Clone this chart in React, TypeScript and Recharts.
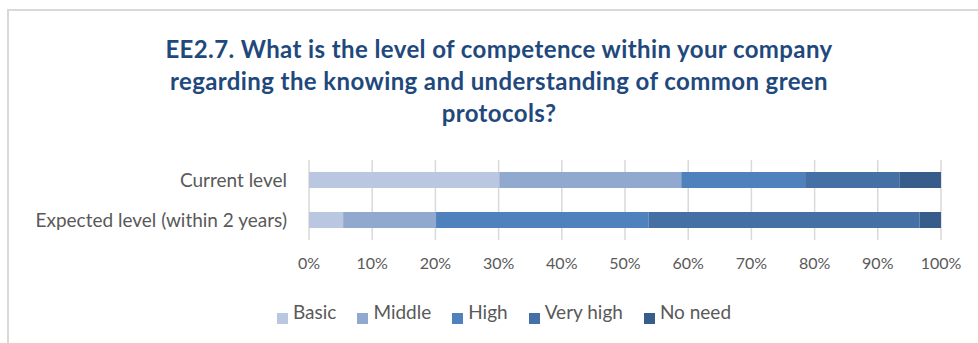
import { BarChart, Bar, XAxis, YAxis, CartesianGrid } from "recharts";

const categories = ["Current level", "Expected level (within 2 years)"];
const seriesNames = ["Basic", "Middle", "High", "Very high", "No need"];
const basic = [30.1, 5.4];
const middle = [28.8, 14.7];
const high = [19.6, 33.6];
const veryHigh = [14.9, 42.9];
const noNeed = [6.6, 3.4];
const xTicks = [0, 10, 20, 30, 40, 50, 60, 70, 80, 90, 100];

const colors = ["#B9C7E0", "#92A9CF", "#4F81BD", "#4470A5", "#385D8A"];
const seriesValues = [basic, middle, high, veryHigh, noNeed];

const data = categories.map((name, i) => {
  const row: Record<string, string | number> = { name };
  seriesNames.forEach((s, j) => {
    row[s] = seriesValues[j][i];
  });
  return row;
});

const FONT = "Lato, 'Open Sans', sans-serif";

export default function App() {
  return (
    <div
      style={{
        position: "absolute",
        left: 0,
        top: 0,
        width: 978,
        height: 343,
        background: "#fff",
        overflow: "hidden",
        fontFamily: FONT,
      }}
    >
      {/* frame */}
      <div
        style={{
          position: "absolute",
          left: 7,
          top: 9,
          width: 1000,
          height: 400,
          borderTop: "2px solid #D9D9D9",
          borderLeft: "2px solid #D9D9D9",
        }}
      />

      <div
        style={{
          position: "absolute",
          left: 99,
          top: 33,
          width: 800,
          textAlign: "center",
          color: "#1F497D",
          fontWeight: 700,
          fontSize: 24,
          letterSpacing: 0.4,
          lineHeight: "32px",
        }}
      >
        <div>EE2.7. What is the level of competence within your company</div>
        <div>regarding the knowing and understanding of common green</div>
        <div>protocols?</div>
      </div>

      <div style={{ position: "absolute", left: 0, top: 0 }}>
        <BarChart
          width={978}
          height={343}
          data={data}
          layout="vertical"
          margin={{ top: 160, right: 37, bottom: 73, left: 0 }}
          barSize={16}
        >
          <CartesianGrid horizontal={false} stroke="#D9D9D9" strokeWidth={1.5} />
          <XAxis
            type="number"
            domain={[0, 100]}
            ticks={xTicks}
            allowDataOverflow
            tickFormatter={(v) => `${v}%`}
            axisLine={false}
            tickLine={false}
            tickSize={0}
            tickMargin={18}
            height={30}
            interval={0}
            tick={{ fill: "#595959", fontSize: 16, fontFamily: FONT }}
          />
          <YAxis
            type="category"
            dataKey="name"
            width={309}
            axisLine={false}
            tickLine={false}
            tickSize={0}
            tickMargin={22}
            tick={{ fill: "#595959", fontSize: 19, fontFamily: FONT }}
          />
          {seriesNames.map((s, j) => (
            <Bar
              key={s}
              dataKey={s}
              stackId="a"
              fill={colors[j]}
              isAnimationActive={false}
            />
          ))}
        </BarChart>
      </div>

      {/* legend */}
      <div
        style={{
          position: "absolute",
          left: 0,
          top: 299,
          width: 978,
          display: "flex",
          justifyContent: "center",
          paddingLeft: 30,
          boxSizing: "border-box",
          color: "#595959",
          fontSize: 19,
        }}
      >
        {seriesNames.map((s, j) => (
          <div
            key={s}
            style={{ display: "flex", alignItems: "flex-end", marginRight: j < seriesNames.length - 1 ? 21 : 0 }}
          >
            <span
              style={{
                display: "inline-block",
                width: 11,
                height: 11,
                background: colors[j],
                marginRight: 5,
                marginBottom: 1,
              }}
            />
            <span style={{ lineHeight: "26px" }}>{s}</span>
          </div>
        ))}
      </div>
    </div>
  );
}
